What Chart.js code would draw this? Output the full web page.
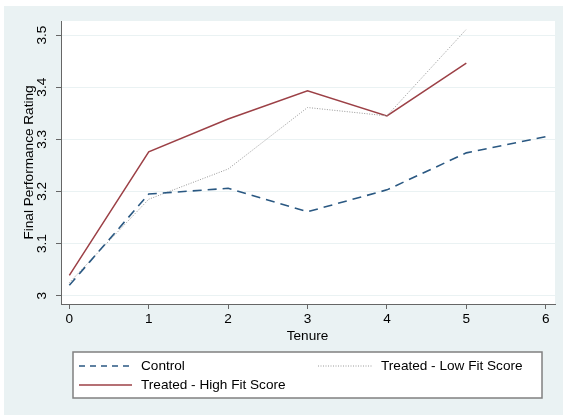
<!DOCTYPE html>
<html>
<head>
<meta charset="utf-8">
<script src="https://cdn.jsdelivr.net/npm/chart.js@4/dist/chart.umd.min.js"></script>
<style>
  html, body { margin: 0; padding: 0; background: #ffffff; }
  #c { display: block; }
</style>
</head>
<body>
<canvas id="c" width="563" height="415"></canvas>
<script>
// ---- Data ----
const tenure = [0, 1, 2, 3, 4, 5, 6];
const controlValues = [3.020, 3.195, 3.206, 3.161, 3.203, 3.274, 3.305];
const highFitValues = [3.039, 3.276, 3.339, 3.393, 3.345, 3.446];
const lowFitValues  = [3.025, 3.185, 3.243, 3.361, 3.345, 3.511];
const seriesNames = ['Control', 'Treated - Low Fit Score', 'Treated - High Fit Score'];
const xTickValues = [0, 1, 2, 3, 4, 5, 6];
const yTickValues = [3, 3.1, 3.2, 3.3, 3.4, 3.5];
const yTickLabels = ['3', '3.1', '3.2', '3.3', '3.4', '3.5'];
const xTitle = 'Tenure';
const yTitle = 'Final Performance Rating';

const FONT = '"Liberation Sans", Arial, sans-serif';
const FS = 13.6;
const OUTER_BG = '#eaf2f3';

function pts(vals) { return vals.map((v, i) => ({ x: tenure[i], y: v })); }

const datasets = [
  { label: seriesNames[0], data: pts(controlValues), borderColor: '#2a5882', borderWidth: 1.6, borderDash: [9, 6], pointRadius: 0, fill: false, tension: 0 },
  { label: seriesNames[1], data: pts(lowFitValues), borderColor: '#9a9a9a', borderWidth: 1, borderDash: [1, 1.5], pointRadius: 0, fill: false, tension: 0 },
  { label: seriesNames[2], data: pts(highFitValues), borderColor: '#9c4046', borderWidth: 1.5, pointRadius: 0, fill: false, tension: 0 }
];

const decor = {
  id: 'decor',
  beforeDraw(chart) {
    const ctx = chart.ctx;
    const a = chart.chartArea;
    ctx.save();
    ctx.fillStyle = '#ffffff';
    ctx.fillRect(0, 0, chart.width, chart.height);
    ctx.fillStyle = OUTER_BG;
    ctx.fillRect(4, 6, chart.width - 4, chart.height - 6);
    ctx.fillStyle = '#ffffff';
    ctx.fillRect(a.left, a.top, a.right - a.left, a.bottom - a.top);
    ctx.restore();
  },
  afterDraw(chart) {
    const ctx = chart.ctx;
    const y = chart.scales.y;
    const a = chart.chartArea;
    ctx.save();
    ctx.fillStyle = '#000000';
    ctx.font = FS + 'px ' + FONT;
    ctx.textAlign = 'center';
    ctx.textBaseline = 'middle';
    // rotated y tick labels
    yTickValues.forEach((v, i) => {
      const py = y.getPixelForValue(v);
      ctx.save();
      ctx.translate(42, py);
      ctx.rotate(-Math.PI / 2);
      ctx.fillText(yTickLabels[i], 0, 0);
      ctx.restore();
    });
    // y title
    ctx.save();
    ctx.translate(29, (a.top + a.bottom) / 2);
    ctx.rotate(-Math.PI / 2);
    ctx.fillText(yTitle, 0, 0);
    ctx.restore();
    // x title
    ctx.fillText(xTitle, (chart.scales.x.getPixelForValue(0) + chart.scales.x.getPixelForValue(6)) / 2, 336);

    // legend box
    const bx = 73, by = 352, bw = 469, bh = 46;
    ctx.fillStyle = '#ffffff';
    ctx.fillRect(bx, by, bw, bh);
    ctx.strokeStyle = '#808080';
    ctx.lineWidth = 1.5;
    ctx.strokeRect(bx, by, bw, bh);

    const entries = [
      { ds: datasets[0], x0: 79, x1: 132, tx: 141, ty: 366 },
      { ds: datasets[1], x0: 318, x1: 373, tx: 381, ty: 366 },
      { ds: datasets[2], x0: 79, x1: 132, tx: 141, ty: 385 }
    ];
    entries.forEach(e => {
      ctx.save();
      ctx.strokeStyle = e.ds.borderColor;
      ctx.lineWidth = e.ds === datasets[0] ? 1.3 : e.ds.borderWidth;
      ctx.setLineDash(e.ds === datasets[0] ? [6, 5] : (e.ds.borderDash || []));
      ctx.beginPath();
      ctx.moveTo(e.x0, e.ty);
      ctx.lineTo(e.x1, e.ty);
      ctx.stroke();
      ctx.restore();
      ctx.fillStyle = '#000000';
      ctx.textAlign = 'left';
      ctx.textBaseline = 'middle';
      ctx.fillText(e.ds.label, e.tx, e.ty);
    });
    ctx.restore();
  }
};

new Chart(document.getElementById('c'), {
  type: 'line',
  data: { datasets },
  plugins: [decor],
  options: {
    responsive: false,
    animation: false,
    devicePixelRatio: 1,
    layout: { padding: { top: 21, right: 8, bottom: 0, left: 0 } },
    plugins: { legend: { display: false }, tooltip: { enabled: false } },
    scales: {
      x: {
        type: 'linear',
        min: -0.105,
        max: 6.117,
        afterBuildTicks(s) { s.ticks = xTickValues.map(v => ({ value: v })); },
        afterFit(s) { s.height = 111; },
        ticks: { color: '#000000', font: { family: FONT, size: FS }, padding: 2, maxRotation: 0, callback: v => String(v) },
        grid: { drawOnChartArea: false, drawTicks: true, tickLength: 5, tickColor: '#666666', color: '#666666' },
        border: { display: true, color: '#666666', width: 1 }
      },
      y: {
        type: 'linear',
        min: 2.984,
        max: 3.527,
        afterBuildTicks(s) { s.ticks = yTickValues.map(v => ({ value: v })); },
        afterFit(s) { s.width = 61; },
        ticks: { color: 'rgba(0,0,0,0)', font: { family: FONT, size: FS } },
        grid: { drawOnChartArea: true, drawTicks: true, tickLength: 5, color: OUTER_BG, tickColor: '#666666', lineWidth: 1 },
        border: { display: true, color: '#666666', width: 1 }
      }
    }
  }
});
</script>
</body>
</html>
